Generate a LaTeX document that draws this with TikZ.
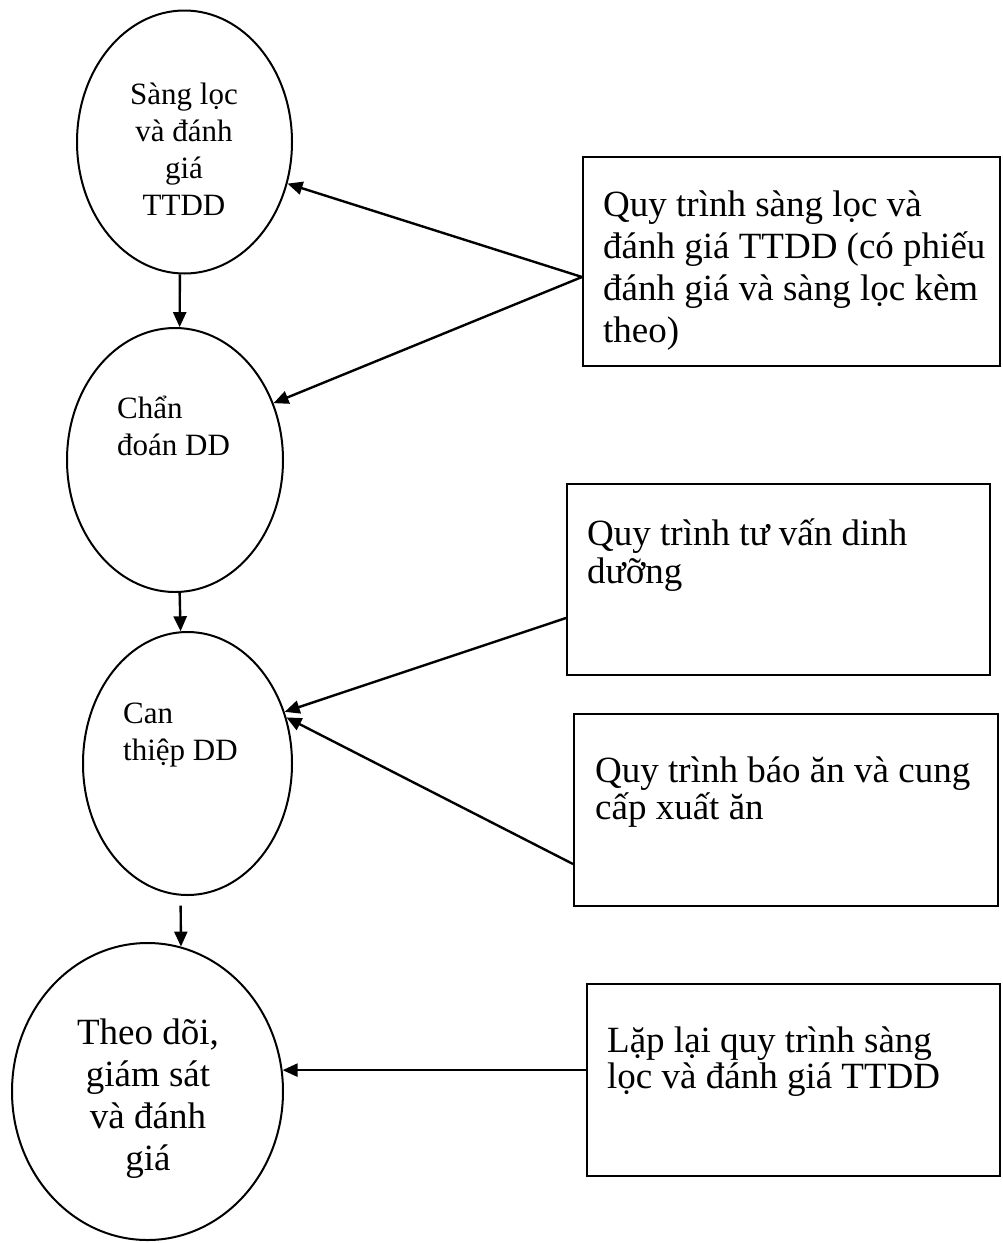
\documentclass[tikz,border=0pt]{standalone}
\usepackage{fontspec}
\setmainfont{Liberation Serif}
\usetikzlibrary{arrows.meta, shapes.geometric}

\begin{document}
\begin{tikzpicture}[x=1pt, y=-1pt,
  stage/.style={draw, ellipse, line width=2pt, inner sep=0pt},
  procbox/.style={draw, rectangle, line width=2pt, inner sep=0pt, anchor=north west},
  small/.style={font=\fontsize{31}{37}\selectfont, inner sep=0pt},
  big/.style={font=\fontsize{37}{42}\selectfont, inner sep=0pt},
  arr/.style={-{Triangle[length=15pt, width=13pt]}, line width=2.4pt}]
  \useasboundingbox (0,0) rectangle (1002,1243);
  % ---------- STAGES ----------
  \node[stage, minimum width=215, minimum height=263] (e1) at (184.5,142) {};
  \node[stage, minimum width=216, minimum height=264] (e2) at (175,460) {};
  \node[stage, minimum width=209, minimum height=263] (e3) at (187.5,763.5) {};
  \node[stage, minimum width=271, minimum height=297] (e4) at (147.5,1091.5) {};
  % texts, placed by the baseline of their last line
  \node[small, align=center, anchor=base] (t1) at (184,215) {Sàng lọc\\và đánh\\giá\\TTDD};
  \node[small, align=left, anchor=base west] (t2) at (117,455) {Chẩn\\đoán DD};
  \node[small, align=left, anchor=base west] (t3) at (123,760) {Can\\thiệp DD};
  \node[big, align=center, anchor=base] (t4) at (148,1170) {Theo dõi,\\giám sát\\và đánh\\giá};
  % ---------- PROCEDURES ----------
  \node[procbox, minimum width=417, minimum height=209] (b1) at (582,156) {};
  \node[procbox, minimum width=423, minimum height=191] (b2) at (566,483) {};
  \node[procbox, minimum width=424, minimum height=192] (b3) at (573,713) {};
  \node[procbox, minimum width=413, minimum height=192] (b4) at (586,983) {};
  \node[big, align=left, anchor=base west] (p1) at (603,342)
    {Quy trình sàng lọc và\\đánh giá TTDD (có phiếu\\đánh giá và sàng lọc kèm\\theo)};
  \node[big, align=left, anchor=base west, font=\fontsize{37}{38}\selectfont] (p2) at (587,583)
    {Quy trình tư vấn dinh\\dưỡng};
  \node[big, align=left, anchor=base west, font=\fontsize{37}{37}\selectfont] (p3) at (595,819)
    {Quy trình báo ăn và cung\\cấp xuất ăn};
  \node[big, align=left, anchor=base west, font=\fontsize{37}{36}\selectfont] (p4) at (607,1088)
    {Lặp lại quy trình sàng\\lọc và đánh giá TTDD};
  % ---------- ARROWS ----------
  \draw[arr] (e1.268) -- (e2.88);
  \draw[arr] (e2.272) -- (e3.93);
  \draw[arr, shorten <=10pt] (e3.267) -- (e4.77);
  \draw[arr] ([yshift=-15.5pt]b1.west) -- (e1.-22);
  \draw[arr] ([yshift=-15.5pt]b1.west) -- (e2.30);
  \draw[arr] ([yshift=-38.5pt]b2.west) -- (e3.28);
  \draw[arr] ([yshift=-54pt]b3.west) -- (e3.25);
  \draw[arr] (e4.9 -| b4.west) -- (e4.9);
\end{tikzpicture}
\end{document}
